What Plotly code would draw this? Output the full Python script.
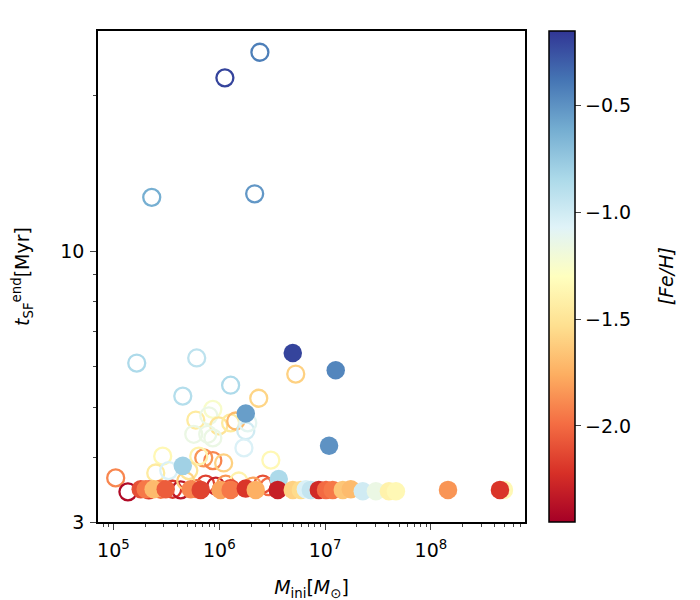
import numpy as np
import plotly.graph_objects as go

# open circles: initial mass [Msun], t_SF^end [Myr], [Fe/H]
open_mass = [
    1.13e6, 2.42e6, 2.30e5, 2.16e6, 1.66e5, 6.12e5, 1.28e6, 5.28e6, 2.36e6, 4.52e5,
    8.69e5, 6.00e5, 7.96e5, 9.89e5, 1.28e6, 1.43e6, 1.78e6, 1.86e6, 5.74e5, 7.78e5,
    8.69e5, 1.71e6, 2.92e5, 7.13e5, 8.69e5, 1.10e6, 3.07e6, 6.40e5, 2.51e5, 3.33e5,
    5.15e5, 1.05e5, 1.37e5, 2.16e5, 2.80e5, 3.63e5, 4.32e5, 7.45e5, 9.27e5, 1.15e6,
    1.53e6, 2.58e6, 6.12e5, 2.08e6, 2.94e6, 4.82e5, 1.28e6,
]
open_tend = [
    21.6, 24.2, 12.7, 12.9, 6.08, 6.22, 5.51, 5.79, 5.20, 5.25,
    4.95, 4.72, 4.81, 4.60, 4.66, 4.70, 4.50, 4.66, 4.43, 4.43,
    4.36, 4.17, 4.02, 3.99, 3.94, 3.90, 3.95, 4.02, 3.73, 3.77,
    3.77, 3.65, 3.43, 3.46, 3.47, 3.47, 3.46, 3.55, 3.52, 3.55,
    3.60, 3.55, 3.48, 3.52, 3.51, 3.60, 3.48,
]
open_feh = [
    -0.20, -0.42, -0.62, -0.52, -0.85, -0.92, -0.85, -1.60, -1.58, -0.88,
    -1.25, -1.45, -1.15, -1.50, -1.45, -1.70, -1.00, -1.10, -1.15, -1.15,
    -1.15, -1.05, -1.35, -1.85, -1.90, -1.60, -1.35, -1.40, -1.45, -1.05,
    -1.50, -1.90, -2.40, -2.20, -1.95, -2.20, -2.35, -2.15, -2.30, -1.85,
    -1.40, -2.10, -2.00, -1.80, -2.00, -1.60, -2.10,
]

# filled circles
filled_mass = [
    4.90e8, 4.95e6, 1.26e7, 1.78e6, 1.09e7, 4.52e5, 3.65e6, 1.81e5, 2.02e5, 2.40e5,
    3.12e5, 5.38e5, 6.68e5, 1.03e6, 1.28e6, 1.78e6, 2.21e6, 3.57e6, 4.95e6, 5.90e6,
    6.58e6, 7.33e6, 8.72e6, 1.02e7, 1.18e7, 1.47e7, 1.75e7, 2.27e7, 3.02e7, 4.01e7,
    4.67e7, 1.45e8, 4.49e8,
]
filled_tend = [
    3.46, 6.36, 5.89, 4.86, 4.21, 3.85, 3.63, 3.47, 3.47, 3.47,
    3.47, 3.47, 3.46, 3.46, 3.46, 3.48, 3.46, 3.46, 3.46, 3.46,
    3.47, 3.46, 3.46, 3.46, 3.46, 3.46, 3.47, 3.44, 3.44, 3.44,
    3.44, 3.46, 3.46,
]
filled_feh = [
    -1.35, -0.20, -0.45, -0.55, -0.50, -0.80, -0.85, -2.10, -1.95, -1.70,
    -2.05, -1.90, -2.15, -1.80, -1.95, -2.20, -1.75, -2.30, -1.60, -1.55,
    -1.05, -0.95, -2.25, -2.00, -1.95, -1.65, -1.70, -1.00, -1.15, -1.40,
    -1.35, -1.85, -2.20,
]

feh_min, feh_max = -2.45, -0.15

font = dict(family="DejaVu Sans", size=19, color="black")

fig = go.Figure()

fig.add_trace(
    go.Scatter(
        x=open_mass,
        y=open_tend,
        mode="markers",
        marker=dict(
            symbol="circle-open",
            size=17,
            color=open_feh,
            colorscale="RdYlBu",
            cmin=feh_min,
            cmax=feh_max,
            line=dict(width=2.3),
        ),
        showlegend=False,
    )
)

fig.add_trace(
    go.Scatter(
        x=filled_mass,
        y=filled_tend,
        mode="markers",
        marker=dict(
            symbol="circle",
            size=18.5,
            color=filled_feh,
            colorscale="RdYlBu",
            cmin=feh_min,
            cmax=feh_max,
            line=dict(width=0),
            colorbar=dict(
                x=1.0565,
                xanchor="left",
                xpad=0,
                y=0.5,
                yanchor="middle",
                len=1.0,
                ypad=0,
                thickness=26,
                outlinewidth=1.5,
                outlinecolor="black",
                ticks="outside",
                ticklen=6,
                tickwidth=1.3,
                tickvals=[-2.0, -1.5, -1.0, -0.5],
                ticktext=["\u22122.0", "\u22121.5", "\u22121.0", "\u22120.5"],
                tickfont=font,
            ),
        ),
        showlegend=False,
    )
)

# colorbar label, placed by hand like matplotlib does
fig.add_annotation(
    text="<i>[Fe/H]</i>",
    xref="paper",
    yref="paper",
    x=1.36,
    y=0.5,
    showarrow=False,
    textangle=-90,
    font=font,
)

x_minor = [m * 10**k for k in range(4, 9) for m in range(2, 10)]

fig.update_xaxes(
    type="log",
    range=[4.854, 8.889],
    tickvals=[1e5, 1e6, 1e7, 1e8],
    ticktext=["10<sup>5</sup>", "10<sup>6</sup>", "10<sup>7</sup>", "10<sup>8</sup>"],
    ticks="outside",
    ticklen=6,
    tickwidth=1.3,
    ticklabelstandoff=4,
    minor=dict(tickvals=x_minor, ticks="outside", ticklen=3.5, tickwidth=1),
    showline=True,
    linecolor="black",
    linewidth=1.5,
    mirror=True,
    showgrid=False,
    zeroline=False,
    tickfont=font,
    title=dict(text="<i>M</i><sub>ini</sub>[<i>M</i><sub>\u2299</sub>]", font=font, standoff=21),
)

fig.update_yaxes(
    type="log",
    range=[np.log10(3), np.log10(26.6)],
    tickvals=[3, 10],
    ticktext=["3", "10"],
    ticks="outside",
    ticklen=6,
    tickwidth=1.3,
    ticklabelstandoff=2,
    minor=dict(tickvals=[4, 5, 6, 7, 8, 9, 20], ticks="outside", ticklen=3.5, tickwidth=1),
    showline=True,
    linecolor="black",
    linewidth=1.5,
    mirror=True,
    showgrid=False,
    zeroline=False,
    tickfont=font,
    title=dict(text="<i>t</i><sub>SF</sub><sup>end</sup>[Myr]", font=font, standoff=26),
)

fig.update_layout(
    width=700,
    height=600,
    margin=dict(l=90, r=183, t=23, b=86),
    plot_bgcolor="white",
    paper_bgcolor="white",
    font=font,
)

fig.write_html("out.html")
